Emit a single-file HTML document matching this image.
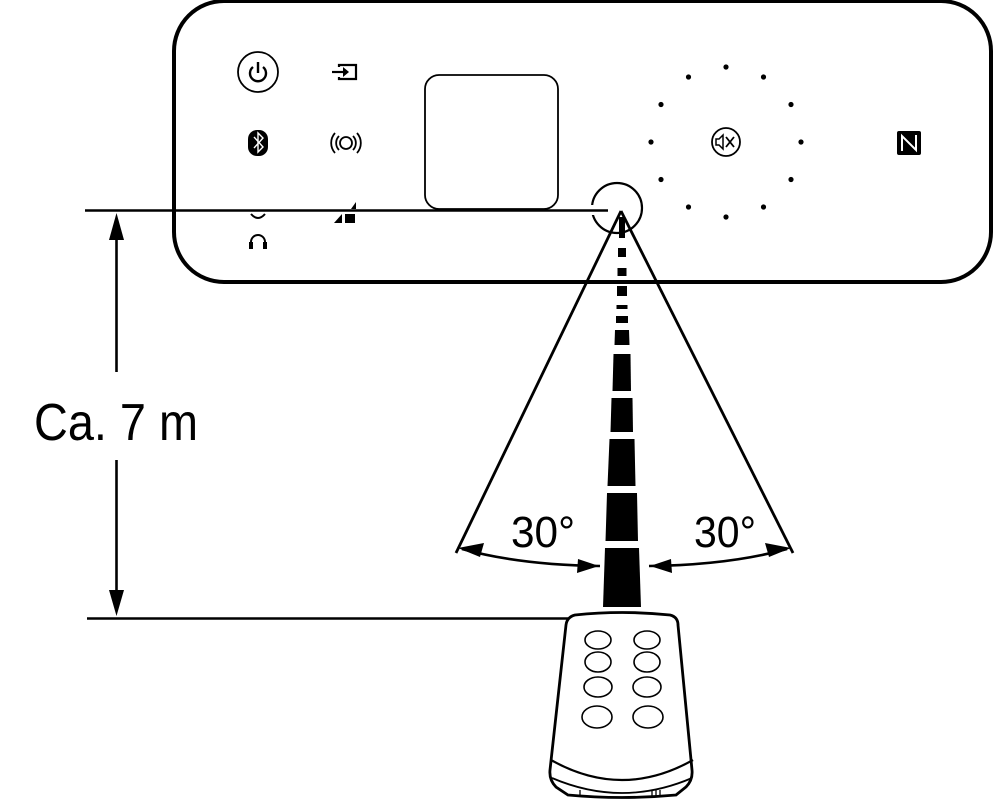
<!DOCTYPE html>
<html><head><meta charset="utf-8"><style>
html,body{margin:0;padding:0;background:#fff;}
svg{display:block;}
text{font-family:"Liberation Sans",Arial,sans-serif;}
</style></head><body>
<svg width="995" height="808" viewBox="0 0 995 808" xmlns="http://www.w3.org/2000/svg">
<!-- panel -->
<rect x="174" y="1" width="817" height="281" rx="50" ry="50" fill="none" stroke="#000" stroke-width="4"/>
<!-- power -->
<circle cx="258" cy="72" r="20" fill="none" stroke="#000" stroke-width="1.8"/>
<path d="M253,67 A8,8 0 1 0 263,67" fill="none" stroke="#000" stroke-width="2.4"/>
<line x1="258" y1="62" x2="258" y2="73" stroke="#000" stroke-width="2.4"/>
<!-- input -->
<path d="M339,67 V65 H356 V79 H339 V77" fill="none" stroke="#000" stroke-width="2.2"/>
<line x1="332" y1="72" x2="347" y2="72" stroke="#000" stroke-width="2.2"/>
<path d="M343,67 L349,72 L343,77 Z" fill="#000"/>
<!-- bluetooth -->
<rect x="248" y="130" width="20" height="26" rx="9" fill="#000"/>
<path d="M254,137 L263,147 L258,152 V133 L263,138 L254,148" fill="none" stroke="#fff" stroke-width="1.4"/>
<!-- surround -->
<circle cx="346" cy="143" r="6" fill="none" stroke="#000" stroke-width="1.8"/>
<path d="M339,136 A10,10 0 0 0 339,150 M353,136 A10,10 0 0 1 353,150 M335,133 A15,15 0 0 0 335,153 M357,133 A15,15 0 0 1 357,153" fill="none" stroke="#000" stroke-width="1.8"/>
<!-- small icons near line -->
<path d="M251,214 Q258,222 265,214" fill="none" stroke="#000" stroke-width="2"/>
<path d="M251,248 V242 A7,7 0 0 1 265,242 V248" fill="none" stroke="#000" stroke-width="2"/>
<rect x="249" y="242" width="4" height="7" fill="#000"/><rect x="263" y="242" width="4" height="7" fill="#000"/>
<path d="M356,202 L356,209 L351,209 Z" fill="#000"/>
<path d="M334,223 L342,214 L342,223 Z" fill="#000"/><rect x="345" y="214" width="10" height="9" fill="#000"/>
<!-- display -->
<rect x="425" y="75" width="133" height="134" rx="14" fill="none" stroke="#000" stroke-width="1.8"/>
<!-- dots -->
<g fill="#000">
<circle cx="726" cy="67" r="2.6"/><circle cx="763.5" cy="77" r="2.6"/><circle cx="791" cy="104.5" r="2.6"/>
<circle cx="801" cy="142" r="2.6"/><circle cx="791" cy="179.5" r="2.6"/><circle cx="763.5" cy="207" r="2.6"/>
<circle cx="726" cy="217" r="2.6"/><circle cx="688.5" cy="207" r="2.6"/><circle cx="661" cy="179.5" r="2.6"/>
<circle cx="651" cy="142" r="2.6"/><circle cx="661" cy="104.5" r="2.6"/><circle cx="688.5" cy="77" r="2.6"/>
</g>
<!-- mute -->
<circle cx="726" cy="142" r="14" fill="none" stroke="#000" stroke-width="1.8"/>
<path d="M716,139 H719 L723,135 V149 L719,145 H716 Z" fill="none" stroke="#000" stroke-width="1.5"/>
<path d="M726,137 L734,147 M734,137 L726,147" stroke="#000" stroke-width="1.8"/>
<!-- NFC -->
<rect x="897" y="131" width="24" height="24" rx="2" fill="#000"/>
<path d="M902,151 V136 L916,150 V135" fill="none" stroke="#fff" stroke-width="2"/>
<!-- IR circle -->
<circle cx="617" cy="208" r="25" fill="none" stroke="#000" stroke-width="2.2"/>
<!-- horizontal lines -->
<rect x="590" y="205" width="18" height="10" fill="#fff"/>
<line x1="85" y1="210.5" x2="608" y2="210.5" stroke="#000" stroke-width="2.6"/>
<line x1="87" y1="618.5" x2="568" y2="618.5" stroke="#000" stroke-width="2.6"/>
<!-- vertical dimension -->
<line x1="116.5" y1="230" x2="116.5" y2="372" stroke="#000" stroke-width="2.6"/>
<line x1="116.5" y1="460" x2="116.5" y2="600" stroke="#000" stroke-width="2.6"/>
<path d="M116.5,213 L109,240 L124,240 Z" fill="#000"/>
<path d="M116.5,616 L109,590 L124,590 Z" fill="#000"/>
<text x="34" y="440" font-size="52" textLength="164" lengthAdjust="spacingAndGlyphs">Ca. 7 m</text>
<!-- cone -->
<line x1="621" y1="211" x2="456" y2="553" stroke="#000" stroke-width="2.8"/>
<line x1="621" y1="211" x2="793" y2="553" stroke="#000" stroke-width="2.8"/>
<!-- beam -->
<g fill="#000">
<polygon points="619,217 625,217 625,238 619,238"/>
<polygon points="618,248 626,248 626,257 618,257"/>
<polygon points="617.5,268 626.5,268 626.5,276 617.5,276"/>
<polygon points="617,286 627,286 627,296 617,296"/>
<polygon points="616.5,305 627.5,305 627.5,309 616.5,309"/>
<polygon points="616,316 628,316 628,323 616,323"/>
<polygon points="615,330 629,330 629.5,345 614.5,345"/>
<polygon points="613.5,354 630.5,354 631,391 612.5,391"/>
<polygon points="611.5,398 632.5,398 633,432 610.5,432"/>
<polygon points="609.5,439 634.5,439 635.5,486 607.5,486"/>
<polygon points="607,493 637,493 638,541 605.5,541"/>
<polygon points="605,548 639,548 641,607 603,607"/>
</g>
<!-- angle arrows -->
<path d="M462,549 Q520,565 600,566" fill="none" stroke="#000" stroke-width="2.6"/>
<path d="M458,548 L484,543 L480,557 Z" fill="#000"/>
<path d="M599,566 L578,559 L577,573 Z" fill="#000"/>
<path d="M787,549 Q729,565 649,566" fill="none" stroke="#000" stroke-width="2.6"/>
<path d="M791,548 L765,543 L769,557 Z" fill="#000"/>
<path d="M650,566 L671,559 L672,573 Z" fill="#000"/>
<text x="511" y="547" font-size="44" textLength="64" lengthAdjust="spacingAndGlyphs">30°</text>
<text x="694" y="547" font-size="44" textLength="62" lengthAdjust="spacingAndGlyphs">30°</text>
<!-- remote -->
<path d="M575,615 Q622,610 670,615 Q678,617 678,625 L692,770 Q693,780 686,787 L676,795 Q622,800 568,795 L556,787 Q549,780 550,770 L566,625 Q567,617 575,615 Z" fill="#fff" stroke="#000" stroke-width="2.8"/>
<path d="M551,760 Q622,800 693,760" fill="none" stroke="#000" stroke-width="2.2"/>
<path d="M552,778 Q622,808 692,778" fill="none" stroke="#000" stroke-width="1.8"/>
<line x1="580" y1="790" x2="580" y2="797" stroke="#000" stroke-width="1.3"/>
<line x1="652" y1="790" x2="652" y2="797" stroke="#000" stroke-width="1.3"/>
<line x1="656" y1="790" x2="656" y2="797" stroke="#000" stroke-width="1.3"/>
<line x1="660" y1="790" x2="660" y2="797" stroke="#000" stroke-width="1.3"/>
<g fill="none" stroke="#000" stroke-width="1.6">
<ellipse cx="598" cy="640" rx="13" ry="9"/><ellipse cx="647" cy="640" rx="13" ry="9"/>
<ellipse cx="598" cy="662" rx="13" ry="10"/><ellipse cx="647" cy="662" rx="13" ry="10"/>
<ellipse cx="598" cy="687" rx="14" ry="10"/><ellipse cx="647" cy="687" rx="14" ry="10"/>
<ellipse cx="597" cy="717" rx="15" ry="11"/><ellipse cx="648" cy="717" rx="15" ry="11"/>
</g>
</svg>
</body></html>
